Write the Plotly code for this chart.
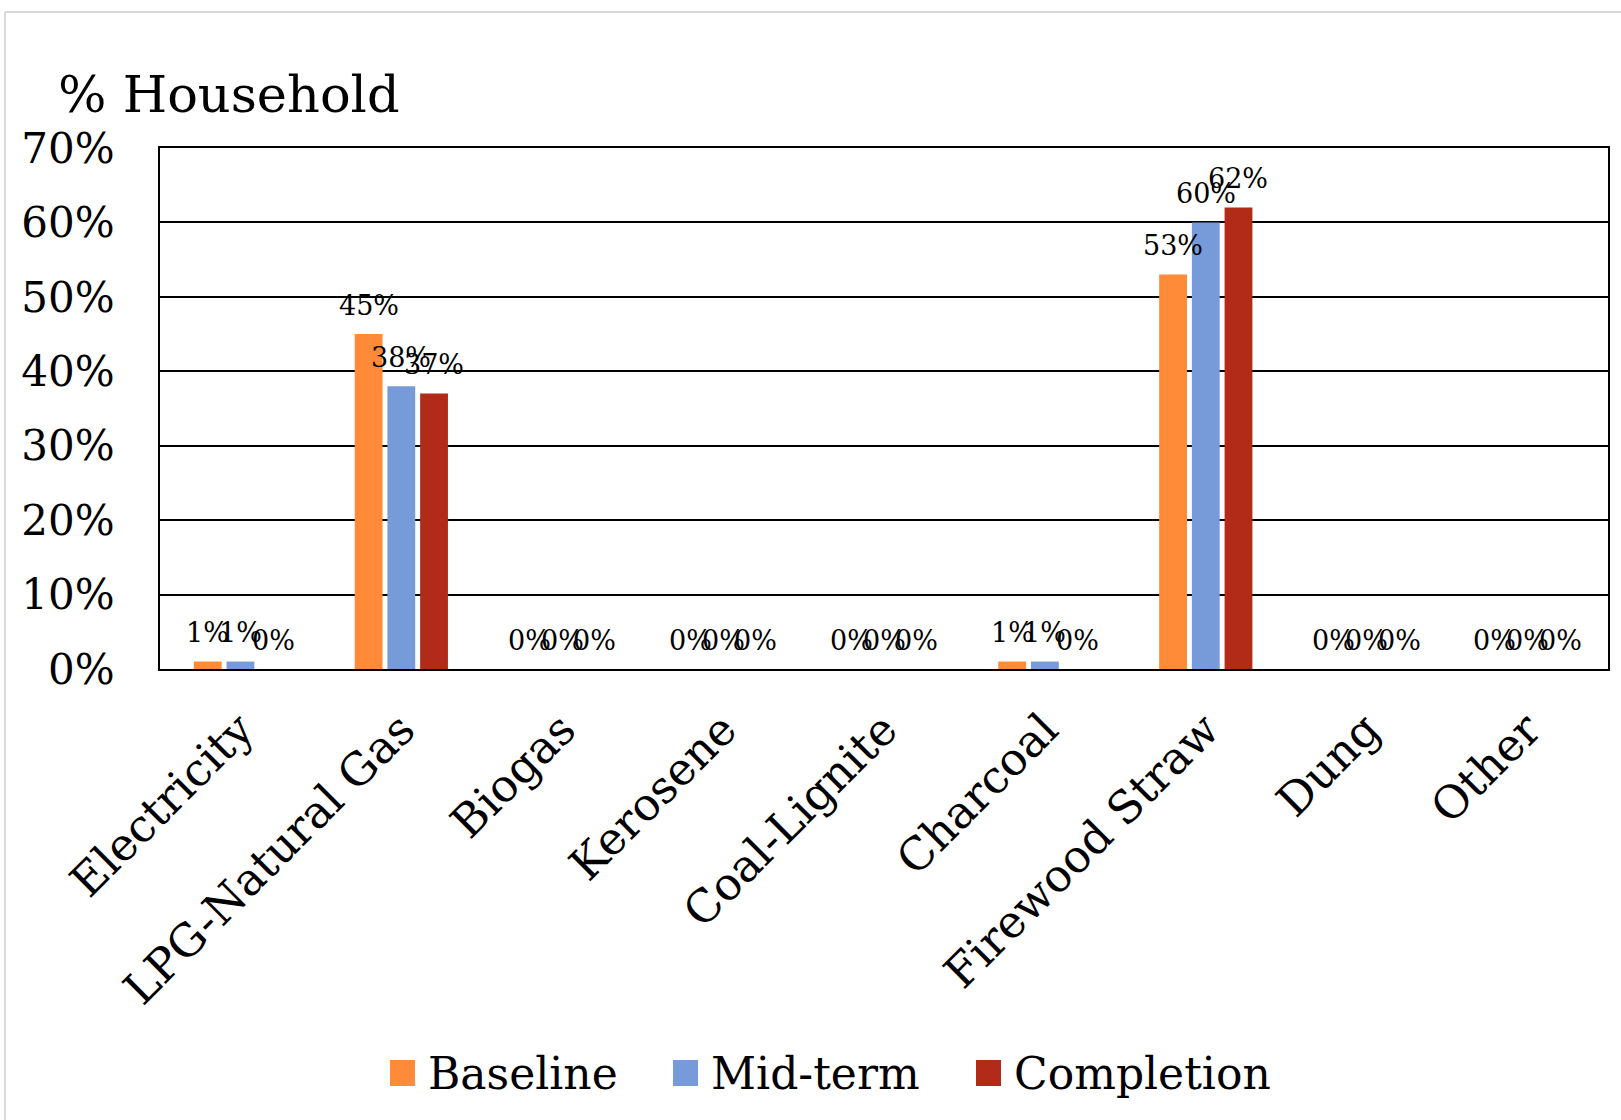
import plotly.graph_objects as go

# Household cooking fuel shares by survey round
fuels = ["Electricity", "LPG-Natural Gas", "Biogas", "Kerosene", "Coal-Lignite",
         "Charcoal", "Firewood Straw", "Dung", "Other"]
baseline = [1, 45, 0, 0, 0, 1, 53, 0, 0]
mid_term = [1, 38, 0, 0, 0, 1, 60, 0, 0]
completion = [0, 37, 0, 0, 0, 0, 62, 0, 0]

series = [
    ("Baseline", baseline, "#FF8A38"),
    ("Mid-term", mid_term, "#779AD8"),
    ("Completion", completion, "#B22B18"),
]

FONT = "DejaVu Serif"

W, H = 1621, 1120
L, R, T, B = 160, 13, 148, 451
pw, ph = W - L - R, H - T - B
BARGAP = 0.39
cat_w = pw / len(fuels)
slot = (1 - BARGAP) * cat_w / len(series)


def px_x(x):
    """Pixel column -> paper x."""
    return (x - L) / pw


def px_y(y):
    """Pixel row (from top) -> paper y."""
    return (H - B - y) / ph


fig = go.Figure()
annotations = []
shapes = []
for i, (name, vals, color) in enumerate(series):
    fig.add_trace(go.Bar(
        x=fuels, y=vals, name=name, showlegend=False,
        marker=dict(color=color, line=dict(width=0)),
    ))
    # value labels sitting above each bar
    for cat, v in zip(fuels, vals):
        annotations.append(dict(
            x=cat, y=v, xref="x", yref="y", text=f"{v}%",
            showarrow=False, xanchor="center", yanchor="middle",
            xshift=(i - (len(series) - 1) / 2) * slot, yshift=29,
            font=dict(family=FONT, size=27, color="black"),
        ))

# legend row below the category labels: swatch + series name
legend_x = [390, 673, 976]
legend_cy = 1073
for (name, _, color), lx in zip(series, legend_x):
    shapes.append(dict(
        type="rect", xref="paper", yref="paper",
        x0=px_x(lx), x1=px_x(lx + 25),
        y0=px_y(legend_cy + 13), y1=px_y(legend_cy - 13),
        fillcolor=color, line=dict(width=0),
    ))
    annotations.append(dict(
        text=name, xref="paper", yref="paper",
        x=px_x(lx + 36), y=px_y(legend_cy),
        xanchor="left", yanchor="middle", showarrow=False,
        font=dict(family=FONT, size=44, color="black"),
    ))

annotations.append(dict(
    text="% Household", xref="paper", yref="paper",
    x=px_x(56), y=px_y(94),
    xanchor="left", yanchor="middle", showarrow=False,
    font=dict(family=FONT, size=51, color="black"),
))

# light frame along the top and left edges of the chart area
shapes += [
    dict(type="line", xref="paper", yref="paper",
         x0=px_x(5), x1=px_x(5), y0=px_y(1125), y1=px_y(12),
         line=dict(color="#D9D9D9", width=2)),
    dict(type="line", xref="paper", yref="paper",
         x0=px_x(5), x1=px_x(1630), y0=px_y(12), y1=px_y(12),
         line=dict(color="#D9D9D9", width=2)),
]

fig.update_layout(
    width=W, height=H,
    margin=dict(l=L, r=R, t=T, b=B),
    paper_bgcolor="white", plot_bgcolor="white",
    barmode="group", bargap=BARGAP, bargroupgap=0.15,
    font=dict(family=FONT, color="black"),
    showlegend=False,
    annotations=annotations,
    shapes=shapes,
)

fig.update_yaxes(
    range=[0, 70], dtick=10, ticksuffix="%",
    showgrid=True, gridcolor="black", gridwidth=1.5,
    showline=True, linecolor="black", linewidth=2, mirror=True,
    zeroline=False, ticks="", ticklabelstandoff=35,
    tickfont=dict(family=FONT, size=42, color="black"),
)
fig.update_xaxes(
    showline=True, linecolor="black", linewidth=2, mirror=True,
    tickangle=-45, ticks="", ticklabelstandoff=14,
    tickfont=dict(family=FONT, size=45, color="black"),
)

fig.write_html("out.html")
